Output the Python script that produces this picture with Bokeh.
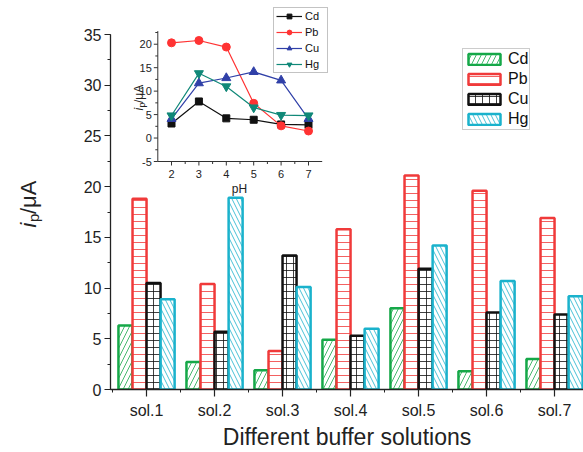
import numpy as np
from bokeh.plotting import figure
from bokeh.layouts import row
from bokeh.models import (Range1d, FixedTicker, SingleIntervalTicker, Legend,
                          LegendItem, Label)
from bokeh.embed import file_html
from bokeh.resources import INLINE
from bokeh.core.properties import value

# ---------------- data ----------------
solutions = ["sol.1", "sol.2", "sol.3", "sol.4", "sol.5", "sol.6", "sol.7"]
cd = [6.3, 2.7, 1.9, 4.9, 8.0, 1.8, 3.0]
pb = [18.8, 10.4, 3.8, 15.8, 21.1, 19.6, 16.9]
cu = [10.5, 5.7, 13.2, 5.3, 11.9, 7.6, 7.4]
hg = [8.9, 18.9, 10.1, 6.0, 14.2, 10.7, 9.2]
series_names = ["Cd", "Pb", "Cu", "Hg"]

ph = [2, 3, 4, 5, 6, 7]
cd_ph = [3.1, 7.8, 4.2, 3.9, 2.9, 2.8]
pb_ph = [20.3, 20.8, 19.4, 7.4, 2.6, 1.5]
cu_ph = [4.1, 11.7, 12.8, 14.1, 12.3, 4.1]
hg_ph = [4.8, 13.8, 11.0, 6.5, 4.9, 4.8]

inset_x_ticks = [2, 3, 4, 5, 6, 7]
inset_y_ticks = [-5, 0, 5, 10, 15, 20]

# ---------------- layout helpers (page pixels) ----------------
FONT = "Liberation Sans"
W, H = 583, 452
LS = 44                               # width of the strip holding the y title
FRAME_L, FRAME_B = 110, 389
PXX = 68.0                            # px per category
PXY = 355.0 / 35.0                    # px per unit
X0 = -0.53
FRAME_W = W - FRAME_L
FRAME_H = FRAME_B


def mx(px):
    return X0 + (px - FRAME_L) / PXX


def my(py):
    return (FRAME_B - py) / PXY


y_range = Range1d(0, FRAME_H / PXY)

# ---- strip with the y-axis title ----
strip = figure(width=LS, height=H, output_backend="svg", toolbar_location=None,
               x_range=Range1d(0, LS), y_range=y_range,
               x_axis_type=None, y_axis_type=None,
               min_border_left=0, min_border_right=0, min_border_top=0,
               min_border_bottom=H - FRAME_H)
strip.outline_line_color = None
strip.grid.visible = False


def strip_text(px, py, txt, size, style="normal"):
    strip.text(x=[px], y=[my(py)], text=[txt], angle=np.pi / 2,
               text_align="left", text_baseline="alphabetic",
               text_font=value(FONT), text_font_size=f"{size}px",
               text_font_style=value(style), text_color="#222222")


strip_text(28, 227, "i", 22, "italic")
strip_text(33, 221.5, "p", 15)
strip_text(28, 213.5, "/μA", 22)

# ---- main figure ----
p = figure(width=W - LS, height=H, output_backend="svg", toolbar_location=None,
           x_range=Range1d(X0, X0 + FRAME_W / PXX), y_range=y_range,
           min_border_left=FRAME_L - LS, min_border_right=0,
           min_border_top=0, min_border_bottom=H - FRAME_H)
p.outline_line_color = None
p.grid.visible = False

xa = p.xaxis[0]
xa.ticker = FixedTicker(ticks=list(range(len(solutions))),
                        minor_ticks=[i - 0.5 for i in range(len(solutions) + 1)])
xa.major_label_overrides = {i: s for i, s in enumerate(solutions)}
xa.axis_label = "Different buffer solutions"
xa.axis_label_text_font = FONT
xa.axis_label_text_font_size = "23px"
xa.axis_label_text_font_style = "normal"
xa.axis_label_text_color = "#222222"
xa.axis_label_standoff = 2
ya = p.yaxis[0]
ya.ticker = SingleIntervalTicker(interval=5, num_minor_ticks=2)
ya.bounds = (0, 35)
for ax in (xa, ya):
    ax.axis_line_color = "#222222"
    ax.axis_line_width = 1.3
    ax.major_tick_line_color = "#222222"
    ax.minor_tick_line_color = "#222222"
    ax.major_tick_line_width = 1.2
    ax.minor_tick_line_width = 1.0
    ax.major_tick_in = 0
    ax.minor_tick_in = 0
    ax.major_label_text_font = FONT
    ax.major_label_text_font_size = "16px"
    ax.major_label_text_color = "#222222"
    ax.major_label_standoff = 5
xa.major_tick_out = 7
xa.minor_tick_out = 3
ya.major_tick_out = 6
ya.minor_tick_out = 3
ya.major_label_standoff = 3

# bars
colors = ["#15a848", "#f03a3a", "#111111", "#1ab2cc"]
hatches = ["/", "-", "+", "\\"]
hscale = [10, 7, 7, 9]
offsets = [-0.31, -0.103, 0.103, 0.31]
bw = 0.206
idx = np.arange(len(solutions))
bar_renderers = []
for vals, c, h, hs, off in zip([cd, pb, cu, hg], colors, hatches, hscale, offsets):
    r = p.vbar(x=idx + off, top=vals, bottom=0, width=bw,
               fill_color="white", line_color=c, line_width=2.5,
               hatch_pattern=h, hatch_color=c, hatch_alpha=0.8,
               hatch_weight=1, hatch_scale=hs)
    bar_renderers.append(r)

legend = Legend(items=[LegendItem(label=n, renderers=[r])
                       for n, r in zip(series_names, bar_renderers)],
                location=(462 - FRAME_L, FRAME_B - 130),
                glyph_width=40, glyph_height=14, label_height=14,
                spacing=2, padding=1, margin=0, label_standoff=4,
                label_text_font=FONT, label_text_font_size="16px",
                label_text_color="#111111",
                border_line_color="#999999", border_line_width=1,
                background_fill_color="white")
p.add_layout(legend)


def add_label(px, py, text, size, angle=0.0, align="left", baseline="alphabetic",
              style="normal"):
    p.add_layout(Label(x=mx(px), y=my(py), text=text, angle=angle,
                       text_align=align, text_baseline=baseline,
                       text_font=FONT, text_font_size=f"{size}px",
                       text_font_style=style, text_color="#222222"))


# ---------------- inset ----------------
IX0, IX1, IY0, IY1 = 1.5, 7.5, -5, 22.8
ipx = (321.7 - 157.3) / (IX1 - IX0)
ipy = (161 - 30.6) / (IY1 - IY0)
xy = p.subplot(x_source=Range1d(IX0, IX1), y_source=Range1d(IY0, IY1),
               x_target=Range1d(mx(157.3), mx(321.7)),
               y_target=Range1d(my(161), my(30.6)))

axc = "#333333"
xy.segment(x0=[IX0, IX0], y0=[IY0, IY0], x1=[IX1, IX0], y1=[IY0, IY1],
           line_color=axc, line_width=1)
xy.segment(x0=inset_x_ticks, y0=[IY0] * 6, x1=inset_x_ticks,
           y1=[IY0 - 4 / ipy] * 6, line_color=axc, line_width=1)
xminor = [t + 0.5 for t in inset_x_ticks[:-1]]
xy.segment(x0=xminor, y0=[IY0] * len(xminor), x1=xminor,
           y1=[IY0 - 2.5 / ipy] * len(xminor), line_color=axc, line_width=1)
xy.segment(x0=[IX0] * 6, y0=inset_y_ticks, x1=[IX0 - 4 / ipx] * 6,
           y1=inset_y_ticks, line_color=axc, line_width=1)
yminor = [t + 2.5 for t in inset_y_ticks]
xy.segment(x0=[IX0] * len(yminor), y0=yminor, x1=[IX0 - 2.5 / ipx] * len(yminor),
           y1=yminor, line_color=axc, line_width=1)
xy.text(x=inset_x_ticks, y=[IY0 - 12 / ipy] * 6, text=[str(t) for t in inset_x_ticks],
        text_align="center", text_baseline="middle", text_font=value(FONT),
        text_font_size="11px", text_color="#222222")
xy.text(x=[IX0 - 6 / ipx] * 6, y=inset_y_ticks, text=[str(t) for t in inset_y_ticks],
        text_align="right", text_baseline="middle", text_font=value(FONT),
        text_font_size="11px", text_color="#222222")

icolors = ["#111111", "#ff3333", "#3040a8", "#108878"]
imarkers = ["square", "circle", "triangle", "inverted_triangle"]
isizes = [7, 8, 9, 9]
inset_items = []
for n, vals, c, m, s in zip(series_names, [cd_ph, pb_ph, cu_ph, hg_ph],
                            icolors, imarkers, isizes):
    ln = xy.line(ph, vals, line_color=c, line_width=1.2)
    sc = xy.scatter(ph, vals, marker=m, size=s, fill_color=c, line_color=c)
    inset_items.append(LegendItem(label=n, renderers=[ln, sc]))

ilegend = Legend(items=inset_items, location=(273 - FRAME_L, FRAME_B - 73),
                 glyph_width=26, glyph_height=12, label_height=12,
                 label_width=20, spacing=4, padding=2, margin=0,
                 label_standoff=3,
                 label_text_font=FONT, label_text_font_size="11px",
                 label_text_color="#111111",
                 border_line_color="#888888", border_line_width=1,
                 background_fill_color="white")
p.add_layout(ilegend)

add_label(239, 188, "pH", 12, align="center", baseline="middle")
add_label(138, 110, "i", 12, angle=np.pi / 2, style="italic")
add_label(141, 107, "p", 9, angle=np.pi / 2)
add_label(138, 102.5, "/μA", 12, angle=np.pi / 2)

layout = row(strip, p, spacing=0)
open("out.html", "w").write(file_html(layout, INLINE))
